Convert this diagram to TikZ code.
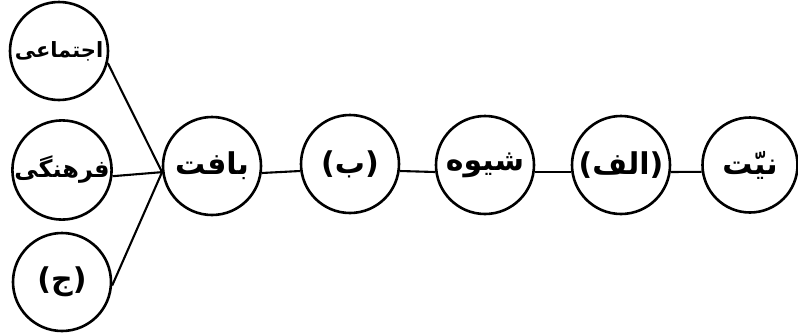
\documentclass[tikz,border=0pt]{standalone}
\usepackage{fontspec}
\setmainfont{DejaVu Sans}
\newfontfamily\arabicfont[Script=Arabic]{DejaVu Sans}
\TeXXeTstate=1

\begin{document}
\begin{tikzpicture}[x=1pt,y=-1pt,
  ring/.style={draw,circle,line width=2.6pt,minimum size=98pt,inner sep=0pt,
    font=\arabicfont\bfseries\fontsize{30}{30}\selectfont},
  small/.style={font=\arabicfont\bfseries\fontsize{21}{21}\selectfont},
  link/.style={line width=2.1pt}]
   \useasboundingbox (0,0) rectangle (798,335);
   % left column
   \node[ring,small] (ejt) at (59,51)   {\beginR اجتماعی\endR};
   \node[ring,small,font=\arabicfont\bfseries\fontsize{24}{24}\selectfont] (frh) at (62,170)  {\beginR فرهنگی\endR};
   \node[ring] (jim) at (62,282)  {{\normalfont\bfseries(}\beginR ج\endR{\normalfont\bfseries)}};
   % chain
   \node[ring] (bft) at (212,166) {\beginR بافت\endR};
   \node[ring] (be)  at (350,164) {{\normalfont\bfseries(}\beginR ب\endR{\normalfont\bfseries)}};
   \node[ring] (shv) at (485,165) {\beginR شیوه\endR};
   \node[ring] (alf) at (621,165) {{\normalfont\bfseries(}\beginR الف\endR{\normalfont\bfseries)}};
   \node[ring,minimum size=95pt] (nyt) at (750,165) {\beginR نیّت\endR};
   % connectors
   \draw[link] (ejt.346) -- (bft.187);
   \draw[link] (frh.353) -- (bft.187);
   \draw[link] (jim.356) -- (bft.187);
   \draw[link] (bft.352) -- (be.188);
   \draw[link] (be.352) -- (shv.188);
   \draw[link] (shv.352) -- (alf.188);
   \draw[link] (alf.352) -- (nyt.188);
\end{tikzpicture}
\end{document}
